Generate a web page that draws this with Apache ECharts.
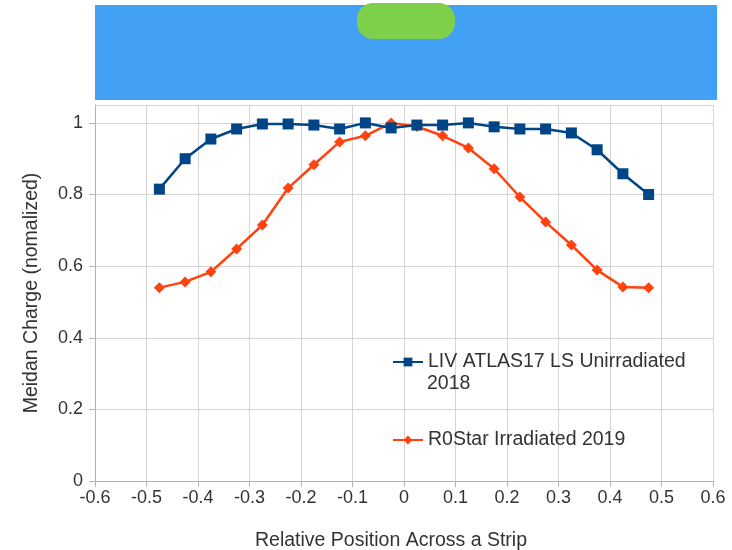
<!DOCTYPE html>
<html><head><meta charset="utf-8">
<script src="https://cdn.jsdelivr.net/npm/echarts@6/dist/echarts.min.js"></script>
<style>html,body{margin:0;padding:0;background:#fff}#c{width:732px;height:550px}</style>
</head><body><div id="c"></div>
<script>
const positions = [-0.475,-0.425,-0.375,-0.325,-0.275,-0.225,-0.175,-0.125,-0.075,-0.025,0.025,0.075,0.125,0.175,0.225,0.275,0.325,0.375,0.425,0.475];
const unirradiated = [0.815,0.90,0.955,0.983,0.997,0.997,0.994,0.983,1.0,0.986,0.994,0.994,1.0,0.989,0.983,0.983,0.972,0.925,0.858,0.80];
const irradiated = [0.54,0.556,0.584,0.648,0.715,0.818,0.883,0.947,0.964,1.0,0.99,0.964,0.93,0.872,0.793,0.723,0.659,0.589,0.542,0.54];
const nameA = 'LIV ATLAS17 LS Unirradiated 2018';
const nameB = 'R0Star Irradiated 2019';
const font = 'Liberation Sans';
const chart = echarts.init(document.getElementById('c'));
chart.setOption({
  animation:false,
  grid:{left:95,right:19,top:105,bottom:69,outerBoundsMode:'none',containLabel:false},
  xAxis:{type:'value',min:-0.6,max:0.6,interval:0.1,
    name:'Relative Position Across a Strip',nameLocation:'middle',nameGap:50,
    nameTextStyle:{fontFamily:font,fontSize:19.5,color:'#333',padding:[0,26,0,0]},
    axisLine:{show:true,onZero:false,lineStyle:{color:'#b3b3b3'}},
    axisTick:{show:true,length:6,lineStyle:{color:'#b3b3b3'}},
    axisLabel:{fontFamily:font,fontSize:18,color:'#333',margin:8,formatter:v=>String(Math.round(v*10)/10)},
    splitLine:{show:true,lineStyle:{color:'#d4d4d4'}}},
  yAxis:{type:'value',min:0,max:1.05,interval:0.2,
    name:'Meidan Charge (nomalized)',nameLocation:'middle',nameGap:53,nameRotate:90,
    nameTextStyle:{fontFamily:font,fontSize:19.5,color:'#333'},
    axisLine:{show:true,onZero:false,lineStyle:{color:'#b3b3b3'}},
    axisTick:{show:true,length:6,lineStyle:{color:'#b3b3b3'}},
    axisLabel:{fontFamily:font,fontSize:18,color:'#333',margin:12,showMaxLabel:false,formatter:v=>String(Math.round(v*10)/10)},
    splitLine:{show:true,lineStyle:{color:'#d4d4d4'}}},
  legend:{orient:'vertical',left:392,top:352,padding:0,itemGap:58,itemWidth:30,itemHeight:11,
    data:[nameA,nameB],
    formatter:n=>n===nameA?'LIV ATLAS17 LS Unirradiated':n,
    textStyle:{fontFamily:font,fontSize:19.5,color:'#333'}},
  graphic:[
    {type:'rect',shape:{x:95,y:5,width:622,height:95},style:{fill:'#42a0f5'},z:100},
    {type:'rect',shape:{x:357,y:3,width:98,height:36,r:16},style:{fill:'#7ed04b'},z:101},
    {type:'text',left:427,top:374,style:{text:'2018',fontFamily:font,fontSize:19.5,fill:'#333'},z:100}
  ],
  series:[
    {name:nameA,type:'line',data:positions.map((x,i)=>[x,unirradiated[i]]),
     symbol:'rect',symbolSize:11,lineStyle:{color:'#004586',width:2.5},itemStyle:{color:'#004586'},z:3},
    {name:nameB,type:'line',data:positions.map((x,i)=>[x,irradiated[i]]),
     symbol:'diamond',symbolSize:11,lineStyle:{color:'#ff420e',width:2.5},itemStyle:{color:'#ff420e'},z:2}
  ]
});
</script></body></html>
